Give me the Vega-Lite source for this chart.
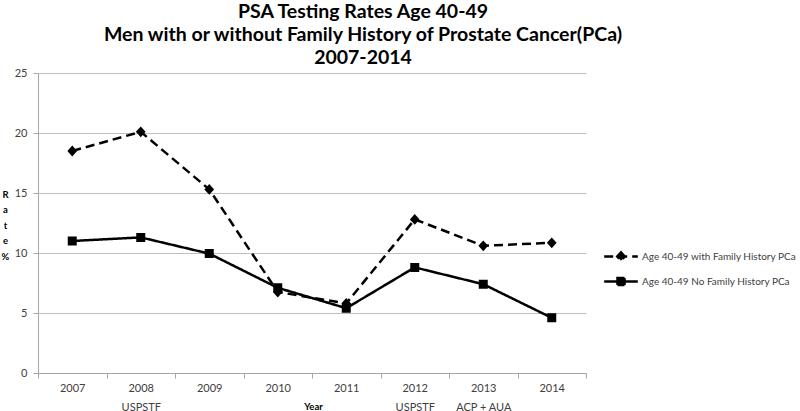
{
  "$schema": "https://vega.github.io/schema/vega-lite/v6.json",
  "width": 548,
  "height": 300,
  "autosize": {"type": "none"},
  "padding": {"left": 38, "top": 73, "right": 214, "bottom": 38},
  "background": "white",
  "title": {
    "text": ["PSA Testing Rates Age 40-49", "Men with or without Family History of Prostate Cancer(PCa)", "2007-2014"],
    "font": "Lato",
    "fontSize": 19.5,
    "fontWeight": "bold",
    "color": "#000000",
    "lineHeight": 23,
    "anchor": "middle",
    "frame": "group",
    "dx": 51,
    "offset": -1
  },
  "data": {
    "values": [
      {"year": "2007", "series": "Age 40-49 with Family History PCa", "rate": 18.5},
      {"year": "2008", "series": "Age 40-49 with Family History PCa", "rate": 20.1},
      {"year": "2009", "series": "Age 40-49 with Family History PCa", "rate": 15.3},
      {"year": "2010", "series": "Age 40-49 with Family History PCa", "rate": 6.75},
      {"year": "2011", "series": "Age 40-49 with Family History PCa", "rate": 5.8},
      {"year": "2012", "series": "Age 40-49 with Family History PCa", "rate": 12.8},
      {"year": "2013", "series": "Age 40-49 with Family History PCa", "rate": 10.6},
      {"year": "2014", "series": "Age 40-49 with Family History PCa", "rate": 10.85},
      {"year": "2007", "series": "Age 40-49 No Family History PCa", "rate": 11.0},
      {"year": "2008", "series": "Age 40-49 No Family History PCa", "rate": 11.3},
      {"year": "2009", "series": "Age 40-49 No Family History PCa", "rate": 9.95},
      {"year": "2010", "series": "Age 40-49 No Family History PCa", "rate": 7.1},
      {"year": "2011", "series": "Age 40-49 No Family History PCa", "rate": 5.4},
      {"year": "2012", "series": "Age 40-49 No Family History PCa", "rate": 8.8},
      {"year": "2013", "series": "Age 40-49 No Family History PCa", "rate": 7.4},
      {"year": "2014", "series": "Age 40-49 No Family History PCa", "rate": 4.6}
    ]
  },
  "config": {
    "view": {"stroke": null},
    "axis": {"labelFont": "Lato", "titleFont": "Lato"},
    "legend": {"labelFont": "Lato"}
  },
  "encoding": {
    "x": {
      "field": "year",
      "type": "ordinal",
      "scale": {"type": "band", "paddingInner": 0, "paddingOuter": 0},
      "axis": {
        "title": "Year",
        "titleFontSize": 9.5,
        "titleFontWeight": "bold",
        "titleColor": "#000000",
        "titleX": 275,
        "titleY": 33,
        "titleBaseline": "middle",
        "titleAlign": "center",
        "labelAngle": 0,
        "labelFontSize": 11,
        "labelColor": "#404040",
        "labelPadding": 4,
        "labelLineHeight": 19,
        "labelBaseline": "top",
        "labelExpr": "datum.label == '2008' ? ['2008','USPSTF'] : datum.label == '2012' ? ['2012','USPSTF'] : datum.label == '2013' ? ['2013','ACP + AUA'] : datum.label",
        "tickBand": "extent",
        "tickSize": 5,
        "tickColor": "#a6a6a6",
        "domainColor": "#a6a6a6",
        "grid": false
      }
    },
    "y": {
      "field": "rate",
      "type": "quantitative",
      "scale": {"domain": [0, 25], "nice": false},
      "axis": {
        "title": ["R", "a", "t", "e", "%"],
        "titleAngle": 0,
        "titleX": -33,
        "titleY": 116,
        "titleAlign": "center",
        "titleBaseline": "top",
        "titleLineHeight": 15.5,
        "titleFontSize": 9.5,
        "titleFontWeight": "bold",
        "titleColor": "#000000",
        "values": [0, 5, 10, 15, 20, 25],
        "labelFontSize": 11,
        "labelColor": "#404040",
        "labelPadding": 6,
        "tickSize": 5,
        "tickColor": "#a6a6a6",
        "domainColor": "#a6a6a6",
        "grid": true,
        "gridColor": "#bfbfbf"
      }
    }
  },
  "layer": [
    {
      "mark": {"type": "line", "color": "black", "strokeWidth": 2.5},
      "encoding": {
        "strokeDash": {
          "field": "series",
          "type": "nominal",
          "scale": {"domain": ["Age 40-49 with Family History PCa", "Age 40-49 No Family History PCa"], "range": [[9, 5], [1, 0]]},
          "legend": {
            "orient": "none",
            "legendX": 567.5,
            "legendY": 168,
            "title": null,
            "symbolSize": 784,
            "symbolStrokeColor": "black",
            "symbolStrokeWidth": 2.5,
            "symbolFillColor": "black",
            "labelFontSize": 10,
            "labelColor": "#404040",
            "labelOffset": 5.5,
            "padding": 0,
            "rowPadding": 0,
            "encode": {
              "symbols": {
                "update": {
                  "shape": {"signal": "datum.value == 'Age 40-49 with Family History PCa' ? 'M-1.2,0L1.2,0M0,-0.3L0.27,0L0,0.3L-0.27,0Z' : 'M-1.2,0L1.2,0M-0.25,-0.25L0.25,-0.25L0.25,0.25L-0.25,0.25Z'"},
                  "strokeDash": {"signal": "datum.value == 'Age 40-49 with Family History PCa' ? [6, 3] : [1, 0]"},
                  "stroke": {"value": "black"},
                  "strokeWidth": {"value": 2.5},
                  "fill": {"value": "black"},
                  "size": {"value": 784},
                  "opacity": {"value": 1}
                }
              }
            }
          }
        }
      }
    },
    {
      "mark": {"type": "point", "filled": true, "color": "black", "size": 1296, "opacity": 1, "strokeWidth": 0},
      "encoding": {
        "shape": {
          "field": "series",
          "type": "nominal",
          "scale": {
            "domain": ["Age 40-49 No Family History PCa", "Age 40-49 with Family History PCa"],
            "range": ["M-1.2,0L1.2,0M-0.25,-0.25L0.25,-0.25L0.25,0.25L-0.25,0.25Z", "M-1.2,0L1.2,0M0,-0.3L0.27,0L0,0.3L-0.27,0Z"]
          },
          "legend": null
        }
      }
    }
  ]
}
